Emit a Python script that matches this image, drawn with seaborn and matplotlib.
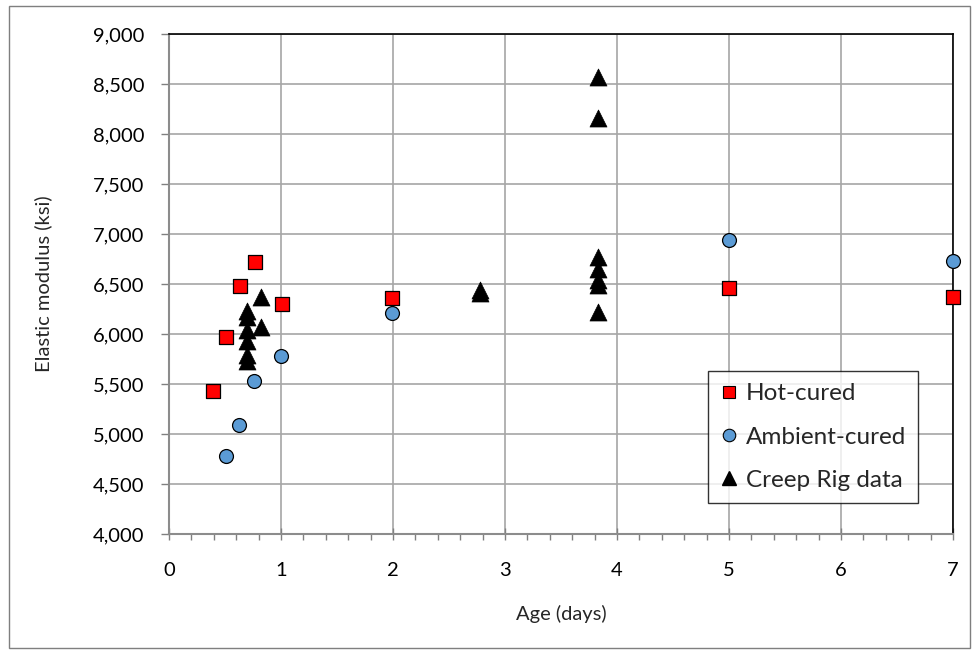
import matplotlib
matplotlib.use("Agg")
import matplotlib.pyplot as plt
import seaborn as sns
import pandas as pd
from matplotlib.ticker import MultipleLocator, FuncFormatter
from matplotlib.patches import Rectangle
from matplotlib.lines import Line2D

# ---- data ----
hot_age = [0.39, 0.51, 0.63, 0.77, 1.01, 1.99, 5.0, 7.0]
hot_mod = [5430, 5967, 6480, 6720, 6297, 6357, 6455, 6373]

amb_age = [0.51, 0.625, 0.76, 1.0, 1.99, 5.0, 7.0]
amb_mod = [4783, 5090, 5527, 5780, 6210, 6940, 6727]

creep_age = [0.70, 0.70, 0.70, 0.70, 0.70, 0.70, 0.82, 0.82,
             2.78, 2.78,
             3.83, 3.83, 3.83, 3.83, 3.83, 3.83, 3.83]
creep_mod = [6230, 6165, 6040, 5925, 5790, 5725, 6370, 6065,
             6443, 6407,
             8570, 8157, 6770, 6645, 6535, 6490, 6220]

labels = ["Hot-cured", "Ambient-cured", "Creep Rig data"]
x_label = "Age (days)"
y_label = "Elastic modulus (ksi)"

sns.set_theme(style="white")
plt.rcParams['font.family'] = ['Lato', 'DejaVu Sans']

fig = plt.figure(figsize=(9.76, 6.55), dpi=100)
ax = fig.add_axes([169/976, 1-534/655, (953-169)/976, (534-34)/655])

df_hot = pd.DataFrame({"age": hot_age, "mod": hot_mod})
df_amb = pd.DataFrame({"age": amb_age, "mod": amb_mod})
df_cr = pd.DataFrame({"age": creep_age, "mod": creep_mod})

sns.scatterplot(data=df_hot, x="age", y="mod", marker="s", s=90, color="#ff0000",
                edgecolor="black", linewidth=0.9, ax=ax, zorder=5, clip_on=False)
sns.scatterplot(data=df_amb, x="age", y="mod", marker="o", s=100, color="#5b9bd5",
                edgecolor="black", linewidth=0.9, ax=ax, zorder=5, clip_on=False)
sns.scatterplot(data=df_cr, x="age", y="mod", marker="^", s=150, color="black",
                edgecolor="black", linewidth=0.5, ax=ax, zorder=6, clip_on=False)

ax.set_xlim(0, 7)
ax.set_ylim(4000, 9000)
ax.xaxis.set_major_locator(MultipleLocator(1))
ax.xaxis.set_minor_locator(MultipleLocator(0.2))
ax.yaxis.set_major_locator(MultipleLocator(500))
ax.yaxis.set_major_formatter(FuncFormatter(lambda v, p: f"{int(v):,}"))

ax.grid(True, which="major", color="#a6a6a6", linewidth=1.2)
ax.set_axisbelow(True)

for side in ["left", "bottom"]:
    ax.spines[side].set_color("#8c8c8c")
    ax.spines[side].set_linewidth(1.5)
for side in ["top", "right"]:
    ax.spines[side].set_color("black")
    ax.spines[side].set_linewidth(1.2)

FS = 14.5
ax.tick_params(axis="both", which="major", labelsize=FS, colors="#808080",
               labelcolor="black", length=5, width=1)
ax.tick_params(axis="x", which="major", bottom=True, direction="inout", length=8, pad=16)
ax.tick_params(axis="x", which="minor", bottom=True, direction="out", length=4,
               width=1, color="#808080")
ax.tick_params(axis="y", which="major", left=True, direction="out", length=6, pad=12)

ax.set_xlabel(x_label, fontsize=FS, labelpad=19)
ax.set_ylabel(y_label, fontsize=FS, labelpad=29)

handles = [
    Line2D([], [], linestyle="none", marker="s", markersize=9, markerfacecolor="#ff0000",
           markeredgecolor="black", markeredgewidth=0.8),
    Line2D([], [], linestyle="none", marker="o", markersize=9, markerfacecolor="#5b9bd5",
           markeredgecolor="black", markeredgewidth=0.8),
    Line2D([], [], linestyle="none", marker="^", markersize=10, markerfacecolor="black",
           markeredgecolor="black"),
]
leg = ax.legend(handles, labels, loc="upper left",
                bbox_to_anchor=((708-169)/784, (534-371)/500),
                frameon=True, fancybox=False, fontsize=17.5, labelspacing=0.92,
                handlelength=0.7, handletextpad=0.35, borderpad=0.5,
                borderaxespad=0)
leg.get_frame().set_edgecolor("black")
leg.get_frame().set_linewidth(1.0)
leg.set_zorder(10)

fig.patches.append(Rectangle((9/976, 1-648/655), (970-9)/976, (648-6)/655,
                             transform=fig.transFigure, fill=False,
                             edgecolor="#7f7f7f", linewidth=1.0))

fig.savefig("out.png", dpi=100)
